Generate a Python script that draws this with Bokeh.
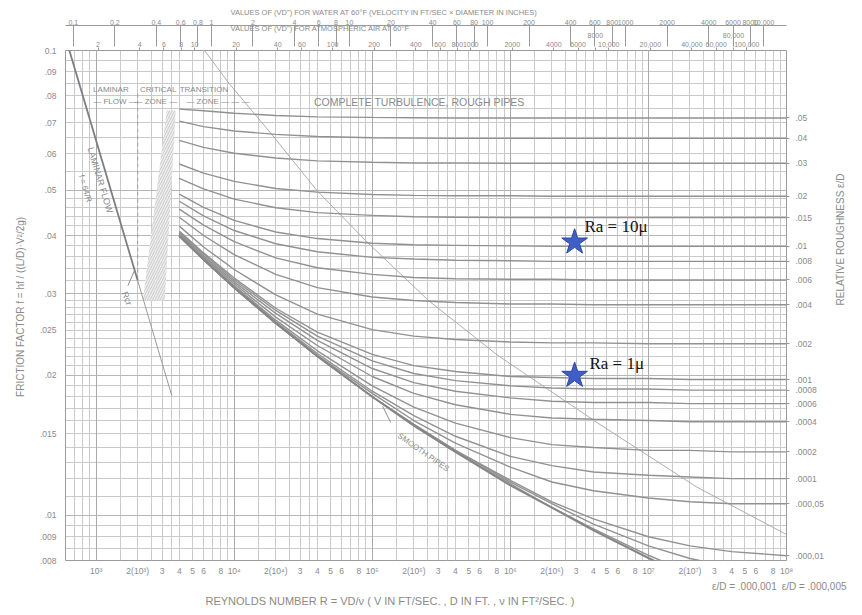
import math
from bokeh.plotting import figure
from bokeh.models import LogAxis, Range1d, FixedTicker, Label, Grid, LogScale, Title
from bokeh.embed import file_html
from bokeh.resources import INLINE
from bokeh.core.properties import value

NAN = float("nan")

# ---------------- data ----------------
RE = [4e3, 6e3, 1e4, 2e4, 4e4, 1e5, 2e5, 4e5, 1e6, 2e6, 4e6, 1e7, 2e7, 4e7, 1e8]

F_050 = [0.0748, 0.0742, 0.0733, 0.0725, 0.0720, 0.0718, 0.0717, 0.0716, 0.0716, 0.0716, 0.0716, 0.0716, 0.0716, 0.0716, 0.0716]
F_040 = [0.0705, 0.0686, 0.0671, 0.0660, 0.0653, 0.0649, 0.0648, 0.0647, 0.0647, 0.0647, 0.0647, 0.0647, 0.0647, 0.0647, 0.0647]
F_030 = [0.0641, 0.0619, 0.0601, 0.0587, 0.0579, 0.0575, 0.0573, 0.0573, 0.0572, 0.0572, 0.0572, 0.0572, 0.0572, 0.0572, 0.0572]
F_020 = [0.0570, 0.0545, 0.0523, 0.0505, 0.0496, 0.0490, 0.0488, 0.0487, 0.0487, 0.0486, 0.0486, 0.0486, 0.0486, 0.0486, 0.0486]
F_015 = [0.0531, 0.0504, 0.0479, 0.0459, 0.0448, 0.0442, 0.0439, 0.0438, 0.0437, 0.0437, 0.0437, 0.0437, 0.0437, 0.0437, 0.0437]
F_010 = [0.0491, 0.0460, 0.0431, 0.0407, 0.0394, 0.0385, 0.0382, 0.0381, 0.0380, 0.0379, 0.0379, 0.0379, 0.0379, 0.0379, 0.0379]
F_008 = [0.0474, 0.0441, 0.0410, 0.0384, 0.0369, 0.0359, 0.0356, 0.0354, 0.0353, 0.0352, 0.0352, 0.0352, 0.0352, 0.0352, 0.0352]
F_006 = [0.0456, 0.0421, 0.0388, 0.0358, 0.0341, 0.0330, 0.0325, 0.0323, 0.0322, 0.0322, 0.0321, 0.0321, 0.0321, 0.0321, 0.0321]
F_004 = [0.0438, 0.0400, 0.0364, 0.0330, 0.0309, 0.0295, 0.0290, 0.0287, 0.0285, 0.0285, 0.0284, 0.0284, 0.0284, 0.0284, 0.0284]
F_002 = [0.0419, 0.0378, 0.0338, 0.0298, 0.0271, 0.0251, 0.0243, 0.0239, 0.0236, 0.0235, 0.0235, 0.0234, 0.0234, 0.0234, 0.0234]
F_001 = [0.0409, 0.0367, 0.0324, 0.0279, 0.0248, 0.0222, 0.0210, 0.0204, 0.0199, 0.0198, 0.0197, 0.0197, 0.0196, 0.0196, 0.0196]
F_0008 = [0.0407, 0.0365, 0.0321, 0.0276, 0.0243, 0.0215, 0.0202, 0.0195, 0.0190, 0.0188, 0.0187, 0.0187, 0.0186, 0.0186, 0.0186]
F_0006 = [0.0405, 0.0362, 0.0318, 0.0272, 0.0238, 0.0207, 0.0193, 0.0185, 0.0179, 0.0176, 0.0175, 0.0175, 0.0174, 0.0174, 0.0174]
F_0004 = [0.0403, 0.0360, 0.0315, 0.0267, 0.0232, 0.0199, 0.0183, 0.0173, 0.0165, 0.0162, 0.0161, 0.0160, 0.0159, 0.0159, 0.0159]
F_0002 = [0.0401, 0.0358, 0.0312, 0.0263, 0.0226, 0.0190, 0.0171, 0.0158, 0.0147, 0.0142, 0.0140, 0.0138, 0.0138, 0.0137, 0.0137]
F_0001 = [0.0400, 0.0356, 0.0310, 0.0261, 0.0223, 0.0185, 0.0164, 0.0148, 0.0134, 0.0128, 0.0124, 0.0122, 0.0121, 0.0120, 0.0120]
F_00005 = [0.0400, 0.0356, 0.0310, 0.0260, 0.0221, 0.0183, 0.0160, 0.0143, 0.0127, 0.0118, 0.0113, 0.0109, 0.0107, 0.0106, 0.0106]
F_00001 = [0.0399, 0.0355, 0.0309, 0.0259, 0.0220, 0.0180, 0.0157, 0.0138, 0.0119, 0.0107, 0.00983, 0.00900, 0.00860, 0.00836, 0.00819]
F_000005 = [0.0399, 0.0355, 0.0309, 0.0259, 0.0220, 0.0180, 0.0157, 0.0138, 0.0118, 0.0106, 0.00958, 0.00860, 0.00808, 0.00774, 0.00747]
F_000001 = [0.0399, 0.0355, 0.0309, 0.0259, 0.0220, 0.0180, 0.0156, 0.0137, 0.0117, 0.0104, 0.00936, 0.00821, 0.00752, 0.00697, NAN]
F_SMOOTH = [0.0399, 0.0355, 0.0309, 0.0259, 0.0220, 0.0180, 0.0156, 0.0137, 0.0116, 0.0104, 0.00929, 0.00810, 0.00734, NAN, NAN]

ROUGH_LABELS = [".05", ".04", ".03", ".02", ".015", ".01", ".008", ".006", ".004", ".002",
                ".001", ".0008", ".0006", ".0004", ".0002", ".0001", ".000,05", ".000,01"]
ROUGH_CURVES = [F_050, F_040, F_030, F_020, F_015, F_010, F_008, F_006, F_004, F_002,
                F_001, F_0008, F_0006, F_0004, F_0002, F_0001, F_00005, F_00001]
LOW_CURVES = [F_000005, F_000001]
LOW_LABELS = ["\u03b5/D = .000,001", "\u03b5/D = .000,005"]

LAM_RE = [640, 2000]
LAM_F = [0.1, 0.032]
LAM_EXT_RE = [2000, 3530]
LAM_EXT_F = [0.032, 0.0181]
CRIT_RE = [2000, 2000]
CRIT_F = [0.0808, 0.032]
HATCH_RE = [3250, 3770, 3140, 2180]
HATCH_F = [0.0743, 0.0743, 0.029, 0.029]
BOUND_RE = [6100, 9200, 19500, 39700, 89500, 2.55e5, 8.1e5, 4.3e6, 2.25e7, 1e8]
BOUND_F = [0.1, 0.0849, 0.065, 0.050, 0.039, 0.029, 0.0221, 0.0158, 0.0115, 0.0091]

STAR_RE = [2.92e6, 2.92e6]
STAR_F = [0.0387, 0.0200]
STAR_TEXT = ["Ra = 10\u03bc", "Ra = 1\u03bc"]
STAR_TEXT_RE = [3.44e6, 3.74e6]
STAR_TEXT_F = [0.0418, 0.0212]

BOTTOM_TICKS = [1e3, 2e3, 3e3, 4e3, 5e3, 6e3, 8e3, 1e4, 2e4, 3e4, 4e4, 5e4, 6e4, 8e4,
                1e5, 2e5, 3e5, 4e5, 5e5, 6e5, 8e5, 1e6, 2e6, 3e6, 4e6, 5e6, 6e6, 8e6,
                1e7, 2e7, 3e7, 4e7, 5e7, 6e7, 8e7, 1e8]
BOTTOM_LABELS = ["10\u00b3", "2(10\u00b3)", "3", "4", "5", "6", "8",
                 "10\u2074", "2(10\u2074)", "3", "4", "5", "6", "8",
                 "10\u2075", "2(10\u2075)", "3", "4", "5", "6", "8",
                 "10\u2076", "2(10\u2076)", "3", "4", "5", "6", "8",
                 "10\u2077", "2(10\u2077)", "3", "4", "5", "6", "8", "10\u2078"]
LEFT_TICKS = [0.008, 0.009, 0.01, 0.015, 0.02, 0.025, 0.03, 0.04, 0.05, 0.06, 0.07, 0.08, 0.09, 0.1]
LEFT_LABELS = [".008", ".009", ".01", ".015", ".02", ".025", ".03", ".04", ".05", ".06", ".07", ".08", ".09", "0.1"]

WATER_FACTOR = 6830.0   # Re per unit of VD" for water at 60 F
AIR_FACTOR = 516.0      # Re per unit of VD" for air at 60 F
WATER_TICKS = [0.1, 0.2, 0.4, 0.6, 0.8, 1, 2, 4, 6, 8, 10, 20, 40, 60, 80, 100, 200, 400, 600, 800,
               1000, 2000, 4000, 6000, 8000, 10000]
WATER_LABELS = ["0.1", "0.2", "0.4", "0.6", "0.8", "1", "2", "4", "6", "8", "10", "20", "40", "60", "80",
                "100", "200", "400", "600", "800", "1000", "2000", "4000", "6000", "8000", "10,000"]
AIR_TICKS = [2, 4, 6, 8, 10, 20, 40, 60, 100, 200, 400, 600, 800, 1000, 2000, 4000, 6000, 8000,
             10000, 20000, 40000, 60000, 80000, 100000]
AIR_LABELS = ["2", "4", "6", "8", "10", "20", "40", "60", "100", "200", "400", "600", "800", "1000",
              "2000", "4000", "6000", "8000\n\u00a0", "10,000", "20,000", "40,000", "60,000",
              "80,000\n\u00a0", "100,000"]

WATER_TITLE = "VALUES OF (VD\") FOR WATER AT 60\u00b0F  (VELOCITY IN FT/SEC \u00d7 DIAMETER IN INCHES)"
AIR_TITLE = "VALUES OF (VD\") FOR ATMOSPHERIC AIR AT 60\u00b0F"
X_TITLE = "REYNOLDS NUMBER  R = VD/\u03bd    ( V IN FT/SEC. ,  D IN FT. ,  \u03bd IN FT\u00b2/SEC. )"
Y_TITLE = "FRICTION FACTOR  f = hf / ((L/D)\u00b7V\u00b2/2g)"
Y2_TITLE = "RELATIVE ROUGHNESS  \u03b5/D"

X_GRID_MULT = [1, 1.5, 2, 2.5, 3, 3.5, 4, 5, 6, 7, 8, 9]
Y_GRID = [0.0085, 0.009, 0.0095, 0.010, 0.011, 0.012, 0.013, 0.014, 0.015, 0.016, 0.017, 0.018,
          0.019, 0.020, 0.021, 0.022, 0.023, 0.024, 0.025, 0.026, 0.027, 0.028, 0.029, 0.030, 0.032,
          0.034, 0.036, 0.038, 0.040, 0.042, 0.044, 0.046, 0.048, 0.050, 0.055, 0.060, 0.065, 0.070,
          0.075, 0.080, 0.085, 0.090, 0.095]

# ---------------- styling ----------------
TXT = "#8a8a8a"
GRIDC = "#c9c9c9"
CURVE = "#919191"
FONT = "Liberation Sans"

p = figure(width=854, height=607, x_axis_type="log", y_axis_type="log",
           x_range=Range1d(600, 1e8), y_range=Range1d(0.008, 0.1),
           output_backend="svg", toolbar_location=None,
           min_border_left=65, min_border_right=64, min_border_top=50, min_border_bottom=47)
p.outline_line_color = "#9a9a9a"
p.background_fill_color = "white"
p.border_fill_color = "white"

x_grid = [m * 10 ** k for k in range(2, 8) for m in X_GRID_MULT if 600 <= m * 10 ** k <= 1e8]
p.xgrid.ticker = FixedTicker(ticks=x_grid)
p.xgrid.grid_line_color = GRIDC
p.ygrid.ticker = FixedTicker(ticks=Y_GRID)
p.ygrid.grid_line_color = GRIDC
p.add_layout(Grid(dimension=0, ticker=FixedTicker(ticks=[1e3, 1e4, 1e5, 1e6, 1e7]),
                  grid_line_color="#aaaaaa"))
p.add_layout(Grid(dimension=1, ticker=FixedTicker(ticks=[0.01, 0.02, 0.03, 0.04, 0.05]),
                  grid_line_color="#b6b6b6"))


def style(ax, size="8.5px"):
    ax.major_label_text_font = FONT
    ax.major_label_text_font_size = size
    ax.major_label_text_color = TXT
    ax.axis_line_color = None
    ax.major_tick_line_color = "#9a9a9a"
    ax.minor_tick_line_color = None
    ax.axis_label_text_font = FONT
    ax.axis_label_text_font_style = "normal"
    ax.axis_label_text_color = TXT


def title(text, size, align="left", offset=0, standoff=1):
    return Title(text=text, text_font=FONT, text_font_size=size, text_color=TXT,
                 text_font_style="normal", align=align, offset=offset, standoff=standoff)


xa = p.xaxis[0]
xa.ticker = FixedTicker(ticks=BOTTOM_TICKS)
xa.major_label_overrides = dict(zip(BOTTOM_TICKS, BOTTOM_LABELS))
style(xa)
xa.major_tick_out = 0
xa.major_tick_in = 0
xa.major_label_standoff = 5
p.add_layout(title("\u2002".join(LOW_LABELS), "10px", align="right", offset=-60, standoff=1), "below")
p.add_layout(title(X_TITLE, "11px", align="left", offset=140, standoff=0), "below")

ya = p.yaxis[0]
ya.ticker = FixedTicker(ticks=LEFT_TICKS)
ya.major_label_overrides = dict(zip(LEFT_TICKS, LEFT_LABELS))
style(ya)
ya.major_tick_out = 0
ya.major_tick_in = 0
ya.major_label_standoff = 9
p.add_layout(title(Y_TITLE, "10px", align="center", offset=-22, standoff=22), "left")

right_vals = [c[-1] for c in ROUGH_CURVES]
ra = LogAxis(ticker=FixedTicker(ticks=right_vals),
             major_label_overrides=dict(zip(right_vals, ROUGH_LABELS)))
style(ra)
ra.major_tick_out = 3
ra.major_tick_in = 0
ra.major_label_standoff = 6
ra.axis_label = Y2_TITLE
ra.axis_label_text_font_size = "10px"
ra.axis_label_standoff = 14
ra.axis_label_orientation = math.pi / 2
p.add_layout(ra, "right")

p.extra_x_ranges = {"air": Range1d(600 / AIR_FACTOR, 1e8 / AIR_FACTOR),
                    "water": Range1d(600 / WATER_FACTOR, 1e8 / WATER_FACTOR)}
p.extra_x_scales = {"air": LogScale(), "water": LogScale()}

air = LogAxis(x_range_name="air", ticker=FixedTicker(ticks=AIR_TICKS),
              major_label_overrides=dict(zip(AIR_TICKS, AIR_LABELS)))
style(air, "7px")
air.major_tick_out = 3
air.major_tick_in = 0
air.major_label_standoff = 0
p.add_layout(air, "above")
p.add_layout(title(AIR_TITLE, "7.5px", align="left", offset=165, standoff=-7), "above")

water = LogAxis(x_range_name="water", ticker=FixedTicker(ticks=WATER_TICKS),
                major_label_overrides=dict(zip(WATER_TICKS, WATER_LABELS)))
style(water, "7px")
water.axis_line_color = "#9a9a9a"
water.major_tick_out = 0
water.major_tick_in = 21
water.major_label_standoff = 1
p.add_layout(water, "above")
p.add_layout(title(WATER_TITLE, "7.5px", align="left", offset=165, standoff=0), "above")

# ---------------- glyphs ----------------
p.patch(HATCH_RE, HATCH_F, fill_color="#efefef", line_color=None,
        hatch_pattern="/", hatch_color="#b8b8b8", hatch_scale=5, hatch_weight=0.7)

p.line(BOUND_RE, BOUND_F, line_color="#a4a4a4", line_width=0.9)
p.line(CRIT_RE, CRIT_F, line_color="#a0a0a0", line_width=1, line_dash="4 3")
p.line(LAM_RE, LAM_F, line_color="#7e7e7e", line_width=1.8)
p.line(LAM_EXT_RE, LAM_EXT_F, line_color="#9a9a9a", line_width=1)

for f in ROUGH_CURVES + LOW_CURVES:
    p.line(RE, f, line_color=CURVE, line_width=1.4)
p.line(RE, F_SMOOTH, line_color="#868686", line_width=2.0)

p.line([1.19e5, 1.36e5], [0.01716, 0.01585], line_color="#8e8e8e", line_width=1)
p.line([1900, 1700], [0.0337, 0.0312], line_color="#8e8e8e", line_width=1)

p.scatter(STAR_RE, STAR_F, marker="star", size=27, fill_color="#3f5ec6", line_color="#2c46a6")
p.text(STAR_TEXT_RE, STAR_TEXT_F, text=STAR_TEXT, text_font=value("Liberation Serif"),
       text_font_size="17px", text_color="#111111", text_baseline="middle")


def lab(x, y, text, size="8px", angle=0.0, align="left"):
    p.add_layout(Label(x=x, y=y, text=text, text_font=FONT, text_font_size=size, text_color=TXT,
                       angle=angle, text_align=align, text_baseline="middle"))


lab(951, 0.0825, "LAMINAR")
lab(2075, 0.0825, "CRITICAL")
lab(4030, 0.0825, "TRANSITION")
lab(1370, 0.0778, "\u2014 FLOW \u2014", align="center")
lab(2706, 0.0778, "\u2014 ZONE \u2014", align="center")
lab(4500, 0.0778, "\u2014 ZONE \u2014  \u2014  \u2014")
lab(37800, 0.0773, "COMPLETE  TURBULENCE,  ROUGH PIPES", size="10.5px")
lab(2.35e5, 0.01366, "SMOOTH PIPES", angle=-0.61, align="center")
lab(1069, 0.0526, "LAMINAR FLOW", angle=-1.28, align="center", size="9px")
lab(833, 0.0505, "f = 64/R", angle=-1.28, align="center")
lab(1672, 0.0293, "Rcr", angle=-1.2, align="center", size="9px")

open("out.html", "w").write(file_html(p, INLINE))
